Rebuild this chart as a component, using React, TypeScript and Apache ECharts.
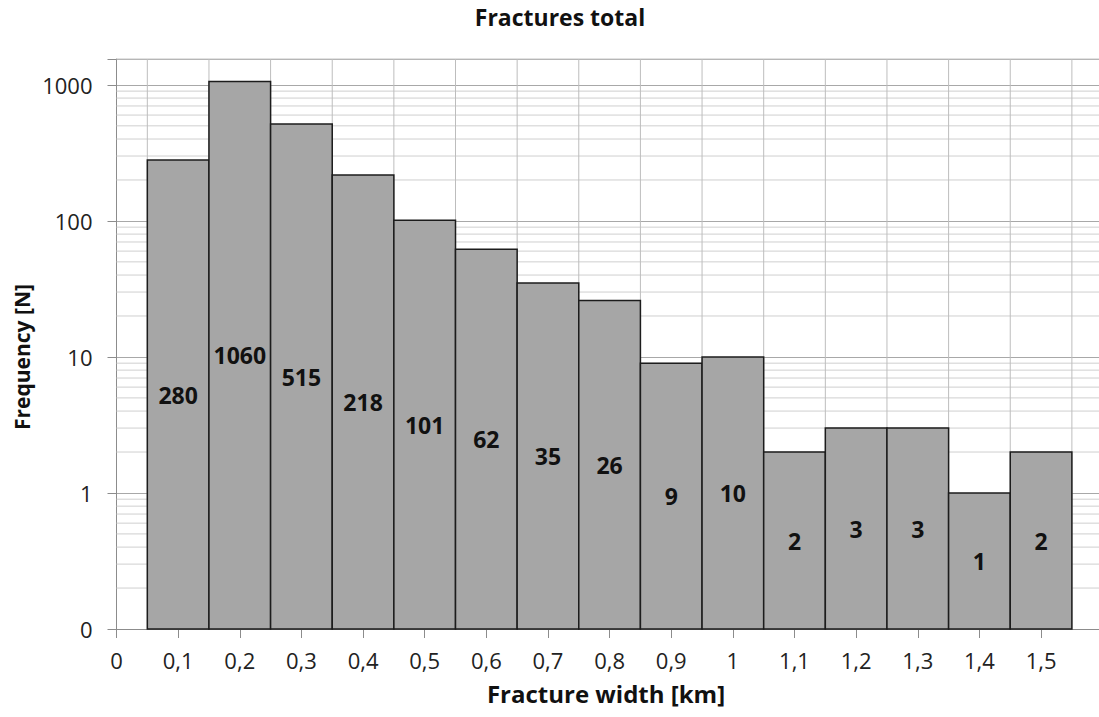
import React, { useEffect, useRef } from "react";
import * as echarts from "echarts";

// Histogram of fracture widths (bin centres in km) and their counts
const widthBins = [0.1, 0.2, 0.3, 0.4, 0.5, 0.6, 0.7, 0.8, 0.9, 1.0, 1.1, 1.2, 1.3, 1.4, 1.5];
const counts = [280, 1060, 515, 218, 101, 62, 35, 26, 9, 10, 2, 3, 3, 1, 2];

// Bin edges, used for the vertical grid lines
const binEdges = [0.05, 0.15, 0.25, 0.35, 0.45, 0.55, 0.65, 0.75, 0.85, 0.95, 1.05, 1.15, 1.25, 1.35, 1.45, 1.55];

// Minor log grid lines (2..9 within each decade)
const minorGrid = [
  0.2, 0.3, 0.4, 0.5, 0.6, 0.7, 0.8, 0.9,
  2, 3, 4, 5, 6, 7, 8, 9,
  20, 30, 40, 50, 60, 70, 80, 90,
  200, 300, 400, 500, 600, 700, 800, 900,
];

const BIN_HALF = 0.05;
const Y_MIN = 0.1;
const Y_MAX = 1550;
const X_MIN = 0;
const X_MAX = 1.594;

const FONT = "'Open Sans', 'Noto Sans', sans-serif";

const hLine = (color: string) => (_p: any, api: any) => {
  const v = api.value(1);
  const a = api.coord([X_MIN, v]);
  const b = api.coord([X_MAX, v]);
  return {
    type: "line",
    shape: { x1: a[0], y1: a[1], x2: b[0], y2: b[1] },
    style: { stroke: color, lineWidth: 1 },
  };
};

export default function App() {
  const ref = useRef<HTMLDivElement>(null);

  useEffect(() => {
    if (!ref.current) return;
    const chart = echarts.init(ref.current, null, { renderer: "svg" });

    const option: any = {
      animation: false,
      backgroundColor: "#ffffff",
      grid: {
        left: 116.5,
        top: 59,
        right: 0,
        bottom: 88,
        show: false,
      },
      graphic: [
        {
          type: "text",
          x: 560,
          y: 17,
          style: {
            text: "Fractures total",
            font: `bold 23px ${FONT}`,
            fill: "#111",
            textAlign: "center",
            textVerticalAlign: "middle",
          },
        },
        {
          type: "text",
          x: 606,
          y: 693,
          style: {
            text: "Fracture width [km]",
            font: `bold 24px ${FONT}`,
            fill: "#111",
            textAlign: "center",
            textVerticalAlign: "middle",
          },
        },
        {
          type: "text",
          x: 22,
          y: 357,
          rotation: Math.PI / 2,
          style: {
            text: "Frequency [N]",
            font: `bold 21px ${FONT}`,
            fill: "#111",
            textAlign: "center",
            textVerticalAlign: "middle",
          },
        },
      ],
      xAxis: {
        type: "value",
        min: X_MIN,
        max: X_MAX,
        interval: 0.1,
        axisLine: { show: true, lineStyle: { color: "#8c8c8c", width: 1 } },
        axisTick: { show: true, length: 9, lineStyle: { color: "#8c8c8c" } },
        splitLine: { show: false },
        axisLabel: {
          margin: 20,
          fontFamily: FONT,
          fontSize: 22,
          color: "#222",
          showMaxLabel: false,
          formatter: (v: number) =>
            v > 1.55 ? "" : String(Math.round(v * 10) / 10).replace(".", ","),
        },
      },
      yAxis: {
        type: "log",
        logBase: 10,
        min: Y_MIN,
        max: Y_MAX,
        interval: 1,
        axisLine: { show: true, lineStyle: { color: "#8c8c8c", width: 1 } },
        axisTick: { show: true, length: 9, lineStyle: { color: "#8c8c8c" } },
        splitLine: { show: true, lineStyle: { color: "#a8a8a8", width: 1 } },
        axisLabel: {
          margin: 24,
          fontFamily: FONT,
          fontSize: 22,
          color: "#222",
          formatter: (v: number) => {
            if (v < 0.5) return "0";
            const l = Math.log10(v);
            return Math.abs(l - Math.round(l)) < 1e-6 ? String(Math.round(v)) : "";
          },
        },
      },
      series: [
        {
          type: "custom",
          name: "minor",
          z: 1,
          silent: true,
          data: minorGrid.map((v) => [X_MIN, v]),
          renderItem: hLine("#cfcfcf"),
        },
        {
          type: "custom",
          name: "top",
          z: 1,
          silent: true,
          data: [[X_MIN, Y_MAX]],
          renderItem: hLine("#c4c4c4"),
        },
        {
          type: "custom",
          name: "vgrid",
          z: 1,
          silent: true,
          data: binEdges.map((e) => [e, 1]),
          renderItem: (_p: any, api: any) => {
            const x = api.value(0);
            const a = api.coord([x, Y_MAX]);
            const b = api.coord([x, Y_MIN]);
            return {
              type: "line",
              shape: { x1: a[0], y1: a[1], x2: b[0], y2: b[1] },
              style: { stroke: "#bdbdbd", lineWidth: 1 },
            };
          },
        },
        {
          type: "custom",
          name: "Fractures",
          z: 3,
          data: widthBins.map((w, i) => [w, counts[i]]),
          renderItem: (_p: any, api: any) => {
            const x = api.value(0);
            const v = api.value(1);
            const tl = api.coord([x - BIN_HALF, v]);
            const br = api.coord([x + BIN_HALF, Y_MIN]);
            return {
              type: "rect",
              shape: { x: tl[0], y: tl[1], width: br[0] - tl[0], height: br[1] - tl[1] },
              style: { fill: "#a6a6a6", stroke: "#1c1c1c", lineWidth: 1.5 },
              textContent: {
                style: {
                  text: String(v),
                  font: `bold 23px ${FONT}`,
                  fill: "#111",
                },
              },
              textConfig: { position: "inside" },
            };
          },
        },
      ],
    };

    chart.setOption(option);
    return () => chart.dispose();
  }, []);

  return (
    <div
      ref={ref}
      style={{ position: "absolute", left: 0, top: 0, width: 1099, height: 717 }}
    />
  );
}
